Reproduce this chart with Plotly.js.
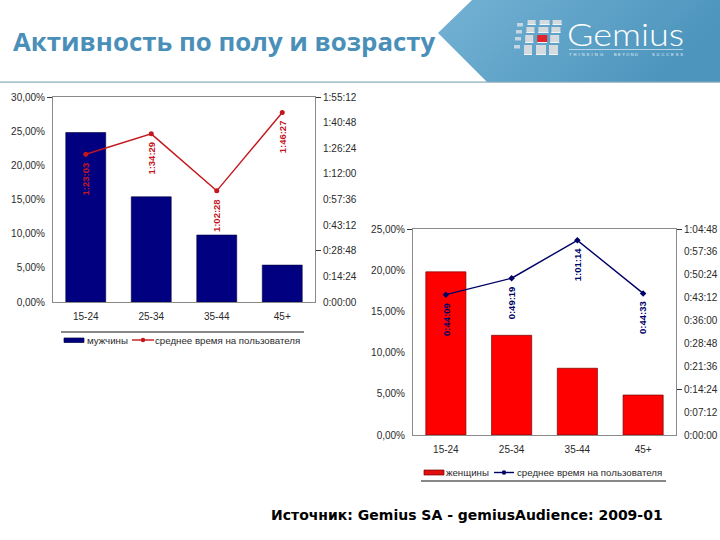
<!DOCTYPE html>
<html><head><meta charset="utf-8">
<script src="https://cdn.plot.ly/plotly-3.0.1.min.js"></script>
<style>
html,body{margin:0;padding:0;background:#fff;width:720px;height:540px;overflow:hidden}
#deco{position:absolute;left:0;top:0;z-index:0}
#chart{position:absolute;left:0;top:0;width:720px;height:540px;z-index:1}
</style></head><body>
<svg id="deco" width="720" height="540" xmlns="http://www.w3.org/2000/svg">
<defs><linearGradient id="g" x1="0" y1="0" x2="1" y2="0.3">
<stop offset="0" stop-color="#74b2d4"/><stop offset="1" stop-color="#4d95bd"/></linearGradient></defs>
<polygon points="472,0 720,0 720,82 487,82 438,33" fill="url(#g)"/>
<rect x="0" y="81.5" width="720" height="1.2" fill="#86a9b8"/>
<g id="logo"></g>
<text x="567" y="46" font-family="Lato" font-weight="300" font-size="32" fill="#fff" textLength="117" lengthAdjust="spacingAndGlyphs">Gemius</text>
<rect x="569" y="49" width="114" height="0.7" fill="#dcecf5"/>
<text x="569" y="56" font-family="Liberation Sans" font-size="4" fill="#eaf4fa" textLength="34">THINKING</text>
<text x="614" y="56" font-family="Liberation Sans" font-size="4" fill="#eaf4fa" textLength="24">BEYOND</text>
<text x="652" y="56" font-family="Liberation Sans" font-size="4" fill="#eaf4fa" textLength="31">SUCCESS</text>
</svg>
<div id="chart"></div>
<script>
// --- chart 1
const categories1 = ['15-24', '25-34', '35-44', '45+'];
const menShare = [24.8, 15.4, 9.8, 5.4];
const menTime = ['1:23:03', '1:34:29', '1:02:28', '1:46:27'];
const leftLabels1 = ['0,00%', '5,00%', '10,00%', '15,00%', '20,00%', '25,00%', '30,00%'];
const leftVals1 = [0, 5, 10, 15, 20, 25, 30];
const rightLabels1 = ['0:00:00', '0:14:24', '0:28:48', '0:43:12', '0:57:36', '1:12:00', '1:26:24', '1:40:48', '1:55:12'];
const rightMarks1 = ['0:28:48', '1:55:12'];
// --- chart 2
const categories2 = ['15-24', '25-34', '35-44', '45+'];
const womenShare = [19.8, 12.1, 8.1, 4.85];
const womenTime = ['0:44:09', '0:49:19', '1:01:14', '0:44:33'];
const leftLabels2 = ['0,00%', '5,00%', '10,00%', '15,00%', '20,00%', '25,00%'];
const leftVals2 = [0, 5, 10, 15, 20, 25];
const rightLabels2 = ['0:00:00', '0:07:12', '0:14:24', '0:21:36', '0:28:48', '0:36:00', '0:43:12', '0:50:24', '0:57:36', '1:04:48'];
const rightMarks2 = ['0:14:24', '1:04:48'];

const sec = s => { const p = s.split(':').map(Number); return p[0]*3600 + p[1]*60 + p[2]; };
const W = 720, H = 540;
const dx = (a,b) => [a/W, b/W];
const dy = (t,b) => [1-b/H, 1-t/H];
const FONT = 'Liberation Sans, Arial, sans-serif';
const AX = '#8a8a8a', TXT = '#2a2a2a';
const tickFont = {family: FONT, size: 10, color: TXT};
const RED = '#c4161c', NAVY = '#000066';

// invisible carrier so an overlay axis that only draws tick marks is kept
const tickCarrier = (x, ya, vals) => ({type:'scatter', mode:'markers', x:vals.map(()=>x), y:vals, xaxis:ya.x, yaxis:ya.y,
  marker:{opacity:0, size:1}, hoverinfo:'skip', showlegend:false});

const data = [
  {type:'bar', name:'мужчины', x:categories1, y:menShare, xaxis:'x', yaxis:'y',
   marker:{color:'#000080', line:{color:'#000040', width:0.6}}},
  {type:'scatter', mode:'lines+markers', name:'среднее время на пользователя', x:categories1, y:menTime.map(sec), xaxis:'x', yaxis:'y2',
   line:{color:RED, width:1.4}, marker:{color:RED, size:5, symbol:'circle'}},
  {type:'bar', name:'женщины', x:categories2, y:womenShare, xaxis:'x2', yaxis:'y3',
   marker:{color:'#ff0000', line:{color:'#7a0000', width:0.7}}},
  {type:'scatter', mode:'lines+markers', name:'среднее время на пользователя', x:categories2, y:womenTime.map(sec), xaxis:'x2', yaxis:'y4',
   line:{color:NAVY, width:1.4}, marker:{color:NAVY, size:5, symbol:'diamond'}},
  tickCarrier(categories1[0], {x:'x',y:'y5'}, rightMarks1.map(sec)),
  tickCarrier(categories1[0], {x:'x',y:'y6'}, [30]),
  tickCarrier(categories2[0], {x:'x2',y:'y7'}, rightMarks2.map(sec)),
  tickCarrier(categories2[0], {x:'x2',y:'y8'}, [25])
];

const catAxis = (dom, anchor) => ({domain:dom, anchor:anchor, type:'category', showgrid:false, zeroline:false,
  showline:true, linecolor:AX, linewidth:1, mirror:true, ticks:'', ticklabelstandoff:5, tickfont:tickFont, fixedrange:true});
const valAxis = (dom, anchor, max, vals, labels, off) => ({domain:dom, anchor:anchor, range:[0,max], tickmode:'array', tickvals:vals, ticktext:labels,
  showgrid:false, zeroline:false, showline:true, linecolor:AX, linewidth:1, ticks:'', ticklabelstandoff:off, tickfont:tickFont, fixedrange:true});
const markAxis = (over, anchor, side, max, vals) => ({overlaying:over, anchor:anchor, side:side, range:[0,max], tickmode:'array', tickvals:vals,
  showticklabels:false, showgrid:false, zeroline:false, showline:false, ticks:'outside', ticklen:5, tickwidth:1, tickcolor:'#333', fixedrange:true});

const max1 = sec(rightLabels1[rightLabels1.length-1]);
const max2 = sec(rightLabels2[rightLabels2.length-1]);

const timeNotes = (cats, times, xr, yr, color) => cats.map((c,i) => ({
  x:c, y:sec(times[i]), xref:xr, yref:yr, text:times[i], textangle:-90, showarrow:false,
  yanchor:'top', xanchor:'center', yshift:-6, font:{family:FONT, size:9.5, color:color, weight:700}}));

const paperNote = (x,y,text,font,extra) => Object.assign({x:x/W, y:1-y/H, xref:'paper', yref:'paper', text:text, showarrow:false, font:font, xanchor:'left', yanchor:'middle', xshift:-2}, extra||{});
const legFont = {family:FONT, size:9.7, color:TXT};
const pline = (x0,x1,y,color,w) => ({type:'line', xref:'paper', yref:'paper', x0:x0/W, x1:x1/W, y0:1-y/H, y1:1-y/H, line:{color:color,width:w}});
const pbox = (x0,x1,y0,y1,fill,edge) => ({type:'rect', xref:'paper', yref:'paper', x0:x0/W, x1:x1/W, y0:1-y0/H, y1:1-y1/H, fillcolor:fill, line:{color:edge,width:0.7}});
const pdot = (x,y,r,fill) => ({type:'circle', xref:'paper', yref:'paper', x0:(x-r)/W, x1:(x+r)/W, y0:1-(y-r)/H, y1:1-(y+r)/H, fillcolor:fill, line:{width:0}});

const layout = {
  width:W, height:H, margin:{l:0,r:0,t:0,b:0}, paper_bgcolor:'rgba(0,0,0,0)', plot_bgcolor:'rgba(0,0,0,0)',
  bargap:0.39, showlegend:false,
  xaxis:catAxis(dx(53,315),'y'),
  yaxis:valAxis(dy(97,302),'x',30,leftVals1,leftLabels1,5),
  yaxis2:Object.assign(valAxis(dy(97,302),'x',max1,rightLabels1.map(sec),rightLabels1,5),{overlaying:'y',side:'right'}),
  xaxis2:catAxis(dx(413,676),'y3'),
  yaxis3:valAxis(dy(229,435),'x2',25,leftVals2,leftLabels2,5),
  yaxis4:Object.assign(valAxis(dy(229,435),'x2',max2,rightLabels2.map(sec),rightLabels2,5),{overlaying:'y3',side:'right'}),
  yaxis5:markAxis('y','x','right',max1,rightMarks1.map(sec)),
  yaxis6:markAxis('y','x','left',30,[30]),
  yaxis7:markAxis('y3','x2','right',max2,rightMarks2.map(sec)),
  yaxis8:markAxis('y3','x2','left',25,[25]),
  shapes:[
    pline(61,304,332,'#111',1), pline(421,666,481,'#111',1),
    pbox(64,84,338,342.5,'#000080','#000040'),
    pline(132,154,340,RED,1.4), pdot(143,340,2.2,RED),
    pbox(424,444,470,475,'#e01010','#7a0000'),
    pline(494,514,472.5,NAVY,1.4), pdot(504,472.5,2.2,NAVY)
  ],
  annotations:[
    ...timeNotes(categories1, menTime, 'x', 'y2', RED),
    ...timeNotes(categories2, womenTime, 'x2', 'y4', NAVY),
    paperNote(87,340,'мужчины',legFont),
    paperNote(155,340,'среднее время на пользователя',legFont),
    paperNote(446,472.5,'женщины',legFont),
    paperNote(517,472.5,'среднее время на пользователя',legFont),
    paperNote(13,41,'Активность по полу и возрасту',{family:'Open Sans',size:25.8,color:'#4a8fb8',weight:700}),
    paperNote(271,515,'Источник: Gemius SA - gemiusAudience: 2009-01',{family:'DejaVu Sans',size:14,color:'#000',weight:700})
  ]
};

// decorative logo grid
const logoCols = [[524,532],[536,546],[549,558]];
const logoRows = [[20,25],[27,33],[35,43],[45,55]];
let s = '';
logoCols.forEach((c,ci) => logoRows.forEach((r,ri) => {
  const red = ci===1 && ri===2;
  const lean = (3-ri)*1.2;
  s += `<rect x="${c[0]+lean}" y="${r[0]}" width="${c[1]-c[0]}" height="${r[1]-r[0]}" fill="${red?'#e2232a':'#d5dadf'}"/>`;
  s += `<rect x="${c[0]+lean}" y="${r[1]-1}" width="${c[1]-c[0]}" height="1" fill="#f2f5f7"/>`;
}));
[[515,23,5],[514,30,5],[513,37,5],[512,45,5]].forEach(d => { s += `<rect x="${d[0]+2}" y="${d[1]}" width="${d[2]+1}" height="3.5" fill="#c3d6e2"/>`; });
document.getElementById('logo').innerHTML = s;

Plotly.newPlot('chart', data, layout, {staticPlot:true, displayModeBar:false});
</script></body></html>
